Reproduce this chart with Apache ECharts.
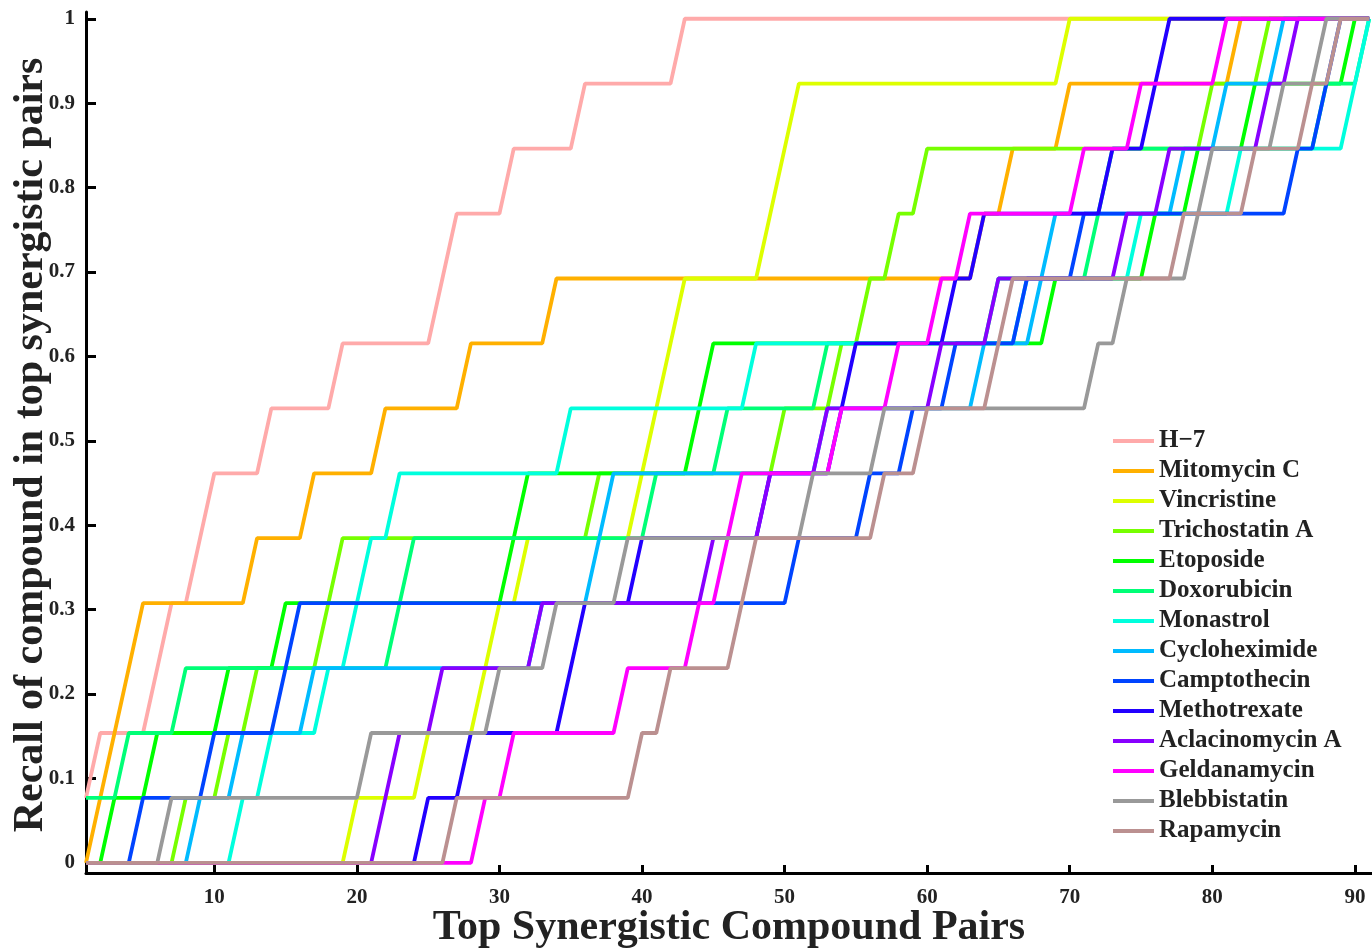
<!DOCTYPE html>
<html>
<head>
<meta charset="utf-8">
<title>Recall of compound in top synergistic pairs</title>
<script src="https://cdn.jsdelivr.net/npm/echarts@6/dist/echarts.min.js"></script>
<style>
    html, body { margin: 0; padding: 0; background: #fff; }
    #chart { width: 1372px; height: 949px; }
</style>
</head>
<body>
<div id="chart"></div>
<script>
    'use strict';

    var h7             = [1, 2, 6, 7, 9, 10, 14, 19, 26, 27, 31, 36, 43];
    var mitomycinC     = [2, 3, 4, 5, 13, 17, 22, 28, 34, 64, 66, 70, 82];
    var vincristine    = [20, 25, 29, 30, 32, 40, 41, 42, 43, 49, 50, 51, 70];
    var trichostatinA  = [8, 11, 13, 18, 19, 37, 50, 54, 56, 58, 60, 80, 84];
    var etoposide      = [3, 6, 11, 15, 31, 32, 44, 45, 69, 76, 79, 83, 90];
    var doxorubicin    = [1, 4, 8, 23, 24, 41, 46, 53, 65, 72, 73, 88, 91];
    var monastrol      = [12, 14, 18, 20, 21, 23, 35, 48, 67, 75, 82, 90, 91];
    var cycloheximide  = [9, 12, 17, 33, 37, 38, 53, 64, 68, 69, 78, 81, 85];
    var camptothecin   = [5, 10, 15, 16, 51, 56, 59, 62, 67, 71, 86, 88, 89];
    var methotrexate   = [25, 28, 35, 36, 40, 49, 54, 55, 62, 64, 73, 76, 77];
    var aclacinomycinA = [22, 23, 26, 33, 45, 49, 53, 61, 65, 74, 77, 84, 86];
    var geldanamycin   = [29, 31, 39, 44, 46, 47, 54, 58, 61, 63, 71, 75, 81];
    var blebbistatin   = [7, 21, 30, 34, 39, 52, 57, 72, 74, 79, 80, 85, 88];
    var rapamycin      = [27, 40, 42, 47, 48, 57, 60, 65, 66, 78, 83, 87, 89];

    var names = ['H\u22127', 'Mitomycin C', 'Vincristine', 'Trichostatin A', 'Etoposide',
        'Doxorubicin', 'Monastrol', 'Cycloheximide', 'Camptothecin', 'Methotrexate',
        'Aclacinomycin A', 'Geldanamycin', 'Blebbistatin', 'Rapamycin'];
    var hits = [h7, mitomycinC, vincristine, trichostatinA, etoposide, doxorubicin, monastrol,
        cycloheximide, camptothecin, methotrexate, aclacinomycinA, geldanamycin, blebbistatin, rapamycin];
    var colors = ['#ffaaaa', '#ffb000', '#ddff00', '#77ff00', '#00ff00', '#00ff77', '#00ffdd',
        '#00bbff', '#0044ff', '#2200ff', '#8800ff', '#ff00ff', '#999999', '#bb9090'];

    var numPairs = 91;
    var xTicks = [10, 20, 30, 40, 50, 60, 70, 80, 90];
    var yTicks = [0, 0.1, 0.2, 0.3, 0.4, 0.5, 0.6, 0.7, 0.8, 0.9, 1];

    var FONT = '"Liberation Serif", "Times New Roman", serif';

    // recall at each rank = hits found so far / total hits
    function recallCurve(ranks) {
        var out = [];
        for (var x = 1; x <= numPairs; x++) {
            var n = 0;
            for (var i = 0; i < ranks.length; i++) {
                if (ranks[i] <= x) { n++; }
            }
            out.push([x, n / ranks.length]);
        }
        return out;
    }

    var series = names.map(function (name, i) {
        return {
            name: name,
            type: 'line',
            data: recallCurve(hits[i]),
            showSymbol: false,
            color: colors[i],
            lineStyle: { width: 3.8, color: colors[i] },
            emphasis: { disabled: true },
            animation: false
        };
    });

    var chart = echarts.init(document.getElementById('chart'));

    chart.setOption({
        backgroundColor: '#fff',
        animation: false,
        grid: { left: 86, right: 0, top: 12, bottom: 76 },
        legend: {
            orient: 'vertical',
            left: 1113,
            top: 428,
            padding: 0,
            icon: 'rect',
            itemWidth: 41,
            itemHeight: 4,
            itemGap: 4,
            data: names,
            textStyle: {
                fontFamily: FONT,
                fontWeight: 'bold',
                fontSize: 25,
                lineHeight: 26,
                color: '#222'
            }
        },
        xAxis: {
            type: 'value',
            min: 1,
            max: 91.2,
            splitLine: { show: false },
            axisLine: { show: true, onZero: false, lineStyle: { color: '#000', width: 3 } },
            axisTick: { inside: true, length: 8, customValues: xTicks, lineStyle: { color: '#000', width: 3 } },
            axisLabel: {
                customValues: xTicks,
                margin: 14,
                fontFamily: FONT,
                fontWeight: 'bold',
                fontSize: 21,
                color: '#222'
            }
        },
        yAxis: {
            type: 'value',
            min: -0.012,
            max: 1.008,
            splitLine: { show: false },
            axisLine: { show: true, onZero: false, lineStyle: { color: '#000', width: 3 } },
            axisTick: { inside: true, length: 10, customValues: yTicks, lineStyle: { color: '#000', width: 3 } },
            axisLabel: {
                customValues: yTicks,
                margin: 11,
                fontFamily: FONT,
                fontWeight: 'bold',
                fontSize: 21,
                color: '#222',
                formatter: function (v) { return String(Math.round(v * 10) / 10); }
            }
        },
        graphic: [
            {
                type: 'text',
                x: 729,
                y: 928,
                style: {
                    text: 'Top Synergistic Compound Pairs',
                    font: 'bold 42px ' + FONT,
                    fill: '#222',
                    textAlign: 'center',
                    textVerticalAlign: 'middle'
                }
            },
            {
                type: 'text',
                x: 31,
                y: 445,
                rotation: Math.PI / 2,
                style: {
                    text: 'Recall of compound in top synergistic pairs',
                    font: 'bold 42px ' + FONT,
                    fill: '#222',
                    textAlign: 'center',
                    textVerticalAlign: 'middle'
                }
            }
        ],
        series: series
    });

    window.addEventListener('resize', function () {
        chart.resize();
    });
</script>
</body>
</html>
